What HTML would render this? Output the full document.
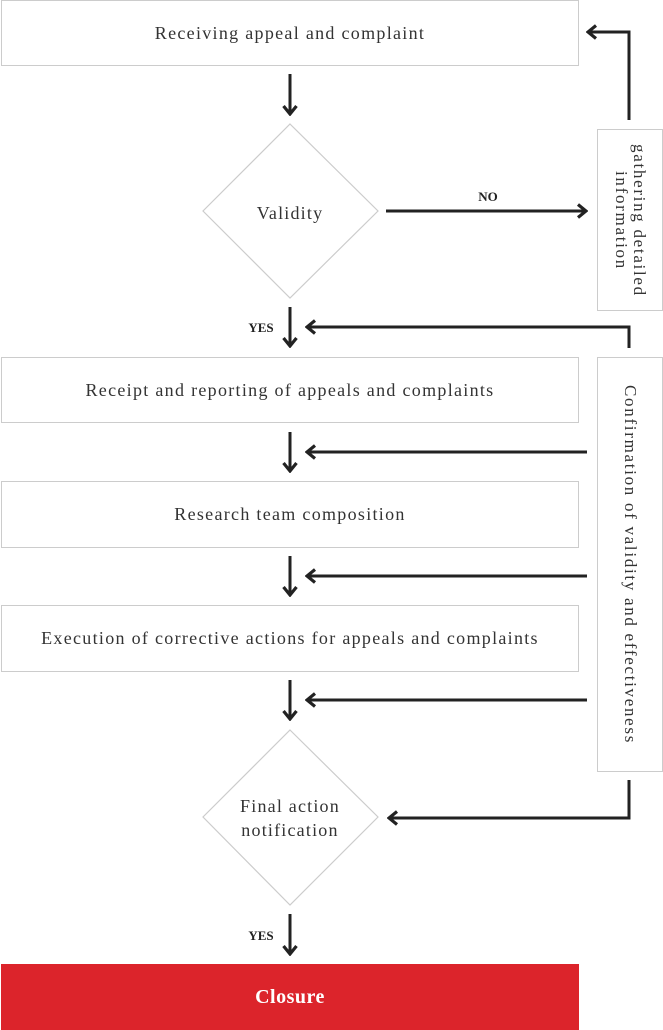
<!DOCTYPE html>
<html><head><meta charset="utf-8"><style>
body{margin:0;width:663px;height:1030px;background:#fff;overflow:hidden;position:relative;font-family:"Liberation Serif",serif;color:#333}
.b{position:absolute;left:1px;border:1px solid #ccc;display:flex;align-items:center;justify-content:center;font-size:18px;letter-spacing:1.3px;box-sizing:border-box;width:578px}
svg{position:absolute;left:0;top:0}
.v{position:absolute;border:1px solid #ccc;box-sizing:border-box;display:flex;align-items:center;justify-content:center}
.v span{writing-mode:vertical-rl;font-size:17px;letter-spacing:1.7px;text-align:center;line-height:18px}
</style></head><body>
<div class="b" style="top:0;height:66px">Receiving appeal and complaint</div>
<div class="b" style="top:357px;height:66px">Receipt and reporting of appeals and complaints</div>
<div class="b" style="top:481px;height:67px">Research team composition</div>
<div class="b" style="top:605px;height:67px">Execution of corrective actions for appeals and complaints</div>
<div class="b" style="top:964px;height:66px;background:#dc242b;border:none;color:#fff;font-size:20px;font-weight:bold;letter-spacing:0.5px">Closure</div>
<div class="v" style="left:597px;top:129px;width:66px;height:182px"><span>gathering detailed<br>information</span></div>
<div class="v" style="left:597px;top:357px;width:66px;height:415px"><span>Confirmation of validity and effectiveness</span></div>
<svg width="663" height="1030">
<defs><marker id="a" markerWidth="12" markerHeight="16" refX="10" refY="8" orient="auto" markerUnits="userSpaceOnUse"><path d="M2,1.5 L10,8 L2,14.5" fill="none" stroke="#222" stroke-width="3.2"/></marker></defs>
<g fill="#fff" stroke="#ccc" stroke-width="1.2">
<polygon points="290,124 378,211 290,298 203,211"/>
<polygon points="290,730 378,817 290,905 203,817"/>
</g>
<g stroke="#222" stroke-width="3" fill="none" marker-end="url(#a)">
<path d="M290,74 V114"/>
<path d="M386,211 H586"/>
<path d="M629,120 V32 H588"/>
<path d="M290,307 V346"/>
<path d="M629,348 V327 H307"/>
<path d="M290,432 V471"/><path d="M587,452 H307"/>
<path d="M290,556 V595"/><path d="M587,576 H307"/>
<path d="M290,680 V719"/><path d="M587,700 H307"/>
<path d="M629,780 V818 H389"/>
<path d="M290,914 V954"/>
</g>
<g font-family="Liberation Serif,serif" fill="#333" text-anchor="middle">
<text x="290" y="219" font-size="18" letter-spacing="1.2">Validity</text>
<text x="290" y="812" font-size="18" letter-spacing="1.2">Final action</text>
<text x="290" y="836" font-size="18" letter-spacing="1.2">notification</text>
<text x="488" y="201" font-size="13" font-weight="bold" fill="#222">NO</text>
<text x="261" y="332" font-size="13" font-weight="bold" fill="#222">YES</text>
<text x="261" y="940" font-size="13" font-weight="bold" fill="#222">YES</text>
</g>
</svg>
</body></html>
